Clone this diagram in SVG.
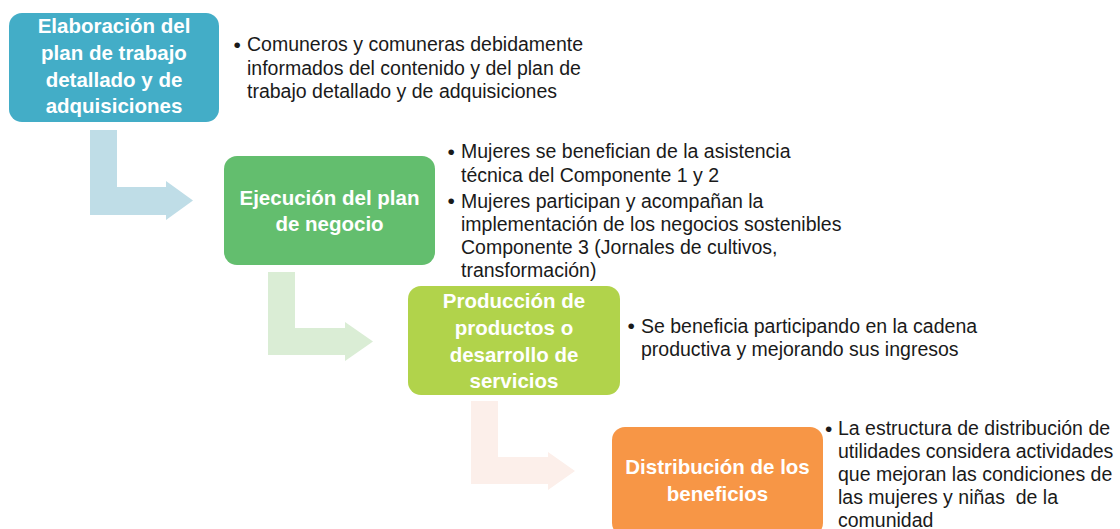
<svg xmlns="http://www.w3.org/2000/svg" width="1120" height="529" viewBox="0 0 1120 529">
<style>
.bt{font-family:"Liberation Sans",Arial,sans-serif;font-weight:bold;font-size:20.5px;fill:#fff;text-anchor:middle}
.tx{font-family:"Liberation Sans",Arial,sans-serif;font-size:19.5px;fill:#1a1a1a}
.bu{font-family:"Liberation Sans",Arial,sans-serif;font-size:21px;fill:#1a1a1a}
</style>
<rect width="1120" height="529" fill="#fff"/>
<g id="connectors">
<polygon points="90,130 117,130 117,187 166,187 166,181 193,200.5 166,220 166,215 90,215" fill="#BFDDE7"/>
<polygon points="268,272 295,272 295,328 345,328 345,322 373,341.5 345,361 345,355 268,355" fill="#DAEDD5"/>
<polygon points="471,401 498,401 498,457 548,457 548,452 575,471 548,490 548,484 471,484" fill="#FCEFEA"/>
</g>
<g id="node1">
<rect x="9" y="13" width="210" height="109" rx="13" fill="#43ADC7"/>
<text class="bt"><tspan x="114" y="33">Elaboración del</tspan><tspan x="114" y="60">plan de trabajo</tspan><tspan x="114" y="86.5">detallado y de</tspan><tspan x="114" y="113">adquisiciones</tspan></text>
</g>
<g id="text1">
<text class="bu" x="233.5" y="51.5">•</text>
<text class="tx"><tspan x="247" y="51">Comuneros y comuneras debidamente</tspan><tspan x="247" y="74.5">informados del contenido y del plan de</tspan><tspan x="247" y="98">trabajo detallado y de adquisiciones</tspan></text>
</g>
<g id="node2">
<rect x="224" y="156" width="211" height="109" rx="13" fill="#63BE6E"/>
<text class="bt"><tspan x="329.5" y="205">Ejecución del plan</tspan><tspan x="329.5" y="230.5">de negocio</tspan></text>
</g>
<g id="text2">
<text class="bu" x="447.5" y="158.5">•</text>
<text class="bu" x="447.5" y="208">•</text>
<text class="tx"><tspan x="461" y="158">Mujeres se benefician de la asistencia</tspan><tspan x="461" y="181.5">técnica del Componente 1 y 2</tspan><tspan x="461" y="207.5">Mujeres participan y acompañan la</tspan><tspan x="461" y="231">implementación de los negocios sostenibles</tspan><tspan x="461" y="254">Componente 3 (Jornales de cultivos,</tspan><tspan x="461" y="277">transformación)</tspan></text>
</g>
<g id="node3">
<rect x="408" y="286" width="212" height="109" rx="13" fill="#B1D34B"/>
<text class="bt"><tspan x="514" y="308">Producción de</tspan><tspan x="514" y="335">productos o</tspan><tspan x="514" y="361.5">desarrollo de</tspan><tspan x="514" y="387.5">servicios</tspan></text>
</g>
<g id="text3">
<text class="bu" x="627.5" y="333">•</text>
<text class="tx"><tspan x="641" y="332.5">Se beneficia participando en la cadena</tspan><tspan x="641" y="356">productiva y mejorando sus ingresos</tspan></text>
</g>
<g id="node4">
<rect x="612" y="427" width="211" height="109" rx="13" fill="#F79646"/>
<text class="bt"><tspan x="717.5" y="474">Distribución de los</tspan><tspan x="717.5" y="500.5">beneficios</tspan></text>
</g>
<g id="text4">
<text class="bu" x="825" y="435.5">•</text>
<text class="tx"><tspan x="838" y="435">La estructura de distribución de</tspan><tspan x="838" y="458">utilidades considera actividades</tspan><tspan x="838" y="481">que mejoran las condiciones de</tspan><tspan x="838" y="504">las mujeres y niñas&#160; de la</tspan><tspan x="838" y="527">comunidad</tspan></text>
</g>
</svg>
